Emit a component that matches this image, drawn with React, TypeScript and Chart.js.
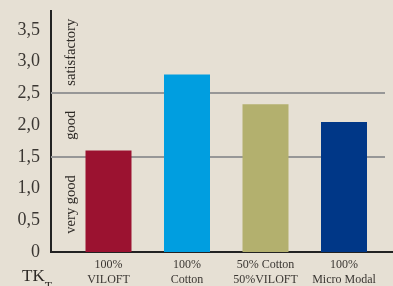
import React, { useEffect, useRef } from "react";
import { Chart, registerables } from "chart.js";

Chart.register(...registerables);

const categories: string[][] = [
  ["100%", "VILOFT"],
  ["100%", "Cotton"],
  ["50% Cotton", "50%VILOFT"],
  ["100%", "Micro Modal"],
];
const values: number[] = [1.6, 2.8, 2.33, 2.05];
const barColors: string[] = ["#9b1230", "#009ee0", "#b3b06e", "#003787"];
const yTickValues: number[] = [0, 0.5, 1, 1.5, 2, 2.5, 3, 3.5];
const yTickLabels: string[] = ["0", "0,5", "1,0", "1,5", "2,0", "2,5", "3,0", "3,5"];
const refLines: number[] = [1.5, 2.5];
const zoneLabels: string[] = ["very good", "good", "satisfactory"];
const zoneBounds: number[] = [0, 1.5, 2.5, 3.8];
const yMax = 3.8;
const axisTitle = "TK";
const axisTitleSub = "T";

const SERIF = "'Liberation Serif', 'DejaVu Serif', serif";

const overlayPlugin = {
  id: "overlay",
  beforeDraw(chart: any) {
    const ctx = chart.ctx;
    ctx.save();
    ctx.fillStyle = "#e6e0d4";
    ctx.fillRect(0, 0, chart.width, chart.height);
    ctx.restore();
  },
  beforeDatasetsDraw(chart: any) {
    const ctx = chart.ctx;
    const y = chart.scales.y;
    const area = chart.chartArea;
    ctx.save();
    ctx.strokeStyle = "#979797";
    ctx.lineWidth = 2;
    refLines.forEach((v) => {
      const py = Math.round(y.getPixelForValue(v));
      ctx.beginPath();
      ctx.moveTo(area.left, py);
      ctx.lineTo(area.right - 8, py);
      ctx.stroke();
    });
    ctx.fillStyle = "#2e2a26";
    ctx.font = `14.5px ${SERIF}`;
    ctx.textAlign = "center";
    ctx.textBaseline = "middle";
    zoneLabels.forEach((t, i) => {
      const mid = (zoneBounds[i] + zoneBounds[i + 1]) / 2;
      const py = y.getPixelForValue(mid);
      ctx.save();
      ctx.translate(area.left + 20, py);
      ctx.rotate(-Math.PI / 2);
      ctx.fillText(t, 0, 0);
      ctx.restore();
    });
    ctx.restore();
  },
  afterDraw(chart: any) {
    const ctx = chart.ctx;
    ctx.save();
    ctx.fillStyle = "#2e2a26";
    ctx.textBaseline = "alphabetic";
    ctx.textAlign = "left";
    ctx.font = `17px ${SERIF}`;
    ctx.fillText(axisTitle, 22, 281);
    const w = ctx.measureText(axisTitle).width;
    ctx.font = `12px ${SERIF}`;
    ctx.fillText(axisTitleSub, 22 + w, 290);
    ctx.restore();
  },
};

export default function App() {
  const ref = useRef<HTMLCanvasElement | null>(null);
  useEffect(() => {
    if (!ref.current) return;
    const spacing = 78.5;
    const firstCenter = 108.5;
    const left = 51;
    const width = 393 - left;
    const xMin = -(firstCenter - left) / spacing;
    const xMax = xMin + width / spacing;
    const chart = new Chart(ref.current, {
      type: "bar",
      data: {
        datasets: [
          {
            data: values.map((v, i) => ({ x: i, y: v })),
            backgroundColor: barColors,
            borderWidth: 0,
            barPercentage: 46 / 78.5,
            categoryPercentage: 1,
          },
        ],
      },
      options: {
        animation: false,
        responsive: true,
        maintainAspectRatio: false,
        layout: { padding: { top: 11, left: 0, right: 0, bottom: 0 } },
        plugins: { legend: { display: false }, tooltip: { enabled: false } },
        scales: {
          x: {
            type: "linear",
            offset: false,
            min: xMin,
            max: xMax,
            grid: { display: false, drawTicks: false, offset: false },
            border: { display: true, color: "#222222", width: 2 },
            afterBuildTicks: (axis: any) => {
              axis.ticks = categories.map((_, i) => ({ value: i }));
            },
            afterFit: (axis: any) => {
              axis.height = 34;
              axis.paddingLeft = 0;
              axis.paddingRight = 0;
            },
            ticks: {
              autoSkip: false,
              maxRotation: 0,
              padding: 5,
              color: "#3a3632",
              font: { family: SERIF, size: 12, lineHeight: 1.25 },
              callback: (v: any) => categories[Math.round(Number(v))] ?? "",
            },
          },
          y: {
            type: "linear",
            min: 0,
            max: yMax,
            grid: { display: false, drawTicks: false },
            border: { display: true, color: "#222222", width: 2 },
            afterBuildTicks: (axis: any) => {
              axis.ticks = yTickValues.map((v) => ({ value: v }));
            },
            afterFit: (axis: any) => {
              axis.width = 51;
              axis.paddingTop = 0;
              axis.paddingBottom = 0;
            },
            ticks: {
              padding: 11,
              color: "#3a3632",
              font: { family: SERIF, size: 18 },
              callback: (v: any) => {
                const idx = yTickValues.indexOf(Number(v));
                return idx >= 0 ? yTickLabels[idx] : "";
              },
            },
          },
        },
      },
      plugins: [overlayPlugin],
    });
    return () => chart.destroy();
  }, []);
  return (
    <div
      style={{
        position: "fixed",
        left: 0,
        top: 0,
        width: 393,
        height: 286,
        background: "#e6e0d4",
      }}
    >
      <canvas ref={ref} />
    </div>
  );
}
